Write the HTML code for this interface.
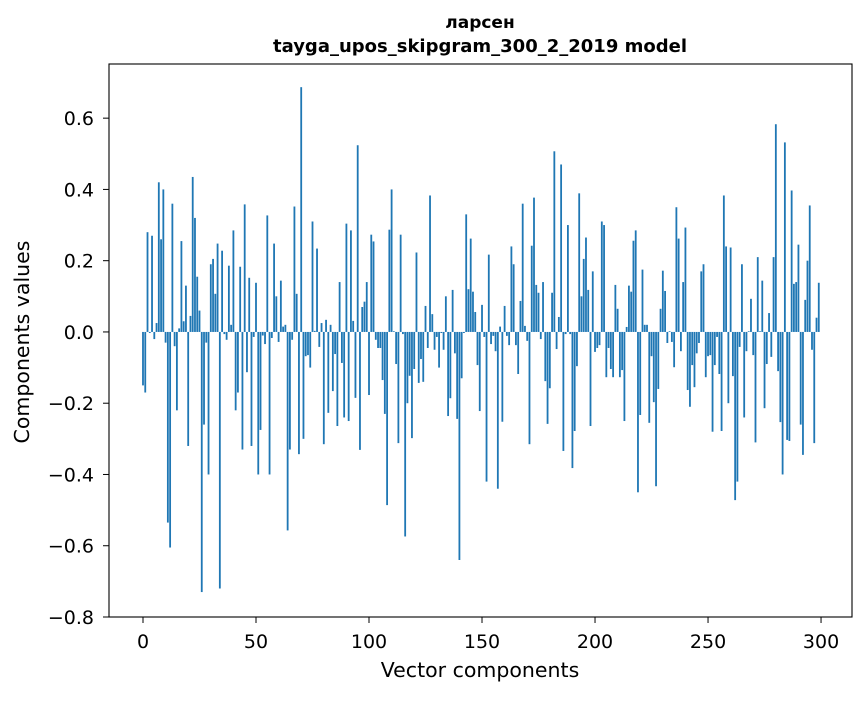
<!DOCTYPE html>
<html><head><meta charset="utf-8"><style>
body{margin:0;background:#fff;}
svg text{font-family:"DejaVu Sans","Liberation Sans",sans-serif;fill:#000;}
</style></head><body>
<svg id="chart" width="867" height="696" xmlns="http://www.w3.org/2000/svg">
<rect width="867" height="696" fill="#fff"/>
<text x="480" y="28" text-anchor="middle" font-size="17" font-weight="bold">ларсен</text>
<text x="480" y="52" text-anchor="middle" font-size="18" font-weight="bold">tayga_upos_skipgram_300_2_2019 model</text>
<g id="bars"></g>
<g id="axes"></g>
<text x="480" y="677" text-anchor="middle" font-size="20.5">Vector components</text>
<text transform="translate(29,342) rotate(-90)" text-anchor="middle" font-size="20.5">Components values</text>
</svg>
<script>
const values = [
-0.15,-0.17,0.28,-0.003,0.27,-0.02,0.025,0.42,0.26,0.40,
-0.03,-0.535,-0.605,0.36,-0.04,-0.22,0.01,0.255,0.03,0.13,
-0.32,0.045,0.435,0.32,0.155,0.06,-0.73,-0.26,-0.03,-0.40,
0.19,0.205,0.107,0.248,-0.72,0.228,-0.006,-0.022,0.186,0.02,
0.285,-0.22,-0.17,0.183,-0.33,0.358,-0.113,0.152,-0.32,-0.014,
0.138,-0.40,-0.275,-0.01,-0.034,0.327,-0.40,-0.017,0.248,0.10,
-0.028,0.144,0.015,0.02,-0.557,-0.33,-0.022,0.352,0.107,-0.343,
0.687,-0.30,-0.068,-0.065,-0.10,0.31,0.003,0.234,-0.042,0.025,
-0.315,0.034,-0.227,0.02,-0.166,-0.062,-0.264,0.14,-0.087,-0.24,
0.304,-0.25,0.285,0.031,-0.185,0.524,-0.331,0.07,0.085,0.14,
-0.177,0.273,0.254,-0.022,-0.045,-0.045,-0.135,-0.23,-0.486,0.287,
0.40,0.002,-0.09,-0.312,0.273,-0.006,-0.574,-0.20,-0.123,-0.298,
-0.104,0.223,-0.143,-0.076,-0.14,0.073,-0.045,0.383,0.05,-0.05,
-0.014,-0.10,-0.003,-0.05,0.10,-0.236,-0.186,0.118,-0.06,-0.244,
-0.64,-0.13,-0.003,0.33,0.12,0.262,0.113,0.056,-0.093,-0.222,
0.076,-0.014,-0.42,0.217,-0.034,-0.011,-0.054,-0.44,0.015,-0.252,
0.073,-0.011,-0.037,0.24,0.19,-0.037,-0.118,0.087,0.36,0.017,
-0.025,-0.315,0.242,0.377,0.132,0.11,-0.02,0.14,-0.138,-0.258,
-0.158,0.11,0.507,-0.048,0.042,0.47,-0.334,-0.006,0.30,-0.006,
-0.382,-0.278,-0.096,0.389,0.10,0.205,0.265,0.118,-0.264,0.17,
-0.056,-0.045,-0.037,0.31,0.30,-0.127,-0.045,-0.104,-0.127,0.132,
0.065,-0.127,-0.107,-0.25,0.014,0.13,0.113,0.256,0.285,-0.45,
-0.233,0.175,0.02,0.02,-0.255,-0.068,-0.197,-0.433,-0.16,0.065,
0.172,0.115,-0.031,0.002,-0.028,-0.099,0.35,0.262,-0.054,0.14,
0.293,-0.163,-0.21,-0.093,-0.155,-0.06,-0.031,0.17,0.19,-0.127,
-0.068,-0.065,-0.28,-0.093,-0.014,-0.118,-0.278,0.383,0.24,-0.20,
0.237,-0.124,-0.472,-0.42,-0.042,0.19,-0.24,-0.054,0.002,0.093,
-0.065,-0.31,0.21,0.002,0.144,-0.214,-0.09,0.053,-0.07,0.21,
0.583,-0.11,-0.253,-0.40,0.532,-0.303,-0.306,0.397,0.135,0.14,
0.245,-0.26,-0.345,0.09,0.20,0.355,-0.05,-0.312,0.04,0.138
];
const xTicks = [0,50,100,150,200,250,300];
const yTicks = [-0.8,-0.6,-0.4,-0.2,0.0,0.2,0.4,0.6];
const yTickLabels = ["\u22120.8","\u22120.6","\u22120.4","\u22120.2","0.0","0.2","0.4","0.6"];

const L=109,R=852,T=64,B=617;
const xMin=-15.04,xMax=313.7,yMin=-0.80,yMax=0.752;
const xs=v=>L+(v-xMin)/(xMax-xMin)*(R-L);
const ys=v=>B-(v-yMin)/(yMax-yMin)*(B-T);
const NS="http://www.w3.org/2000/svg";
const bars=document.getElementById('bars');
const bw=(xs(0.8)-xs(0));
values.forEach((v,i)=>{
  const r=document.createElementNS(NS,'rect');
  
  
  const y0=ys(0),y1=ys(v);
  r.setAttribute('x',xs(i)-bw/2);
  r.setAttribute('width',bw);
  r.setAttribute('y',Math.min(y0,y1));
  r.setAttribute('height',Math.abs(y1-y0));
  r.setAttribute('fill','#1f77b4');
  bars.appendChild(r);
});
const ax=document.getElementById('axes');
const frame=document.createElementNS(NS,'rect');


frame.setAttribute('x',L);frame.setAttribute('y',T);
frame.setAttribute('width',R-L);frame.setAttribute('height',B-T);
frame.setAttribute('fill','none');frame.setAttribute('stroke','#000');frame.setAttribute('stroke-width','1.1');
ax.appendChild(frame);
xTicks.forEach(t=>{
  const x=xs(t);
  const l=document.createElementNS(NS,'line');
  
  
  l.setAttribute('x1',x);l.setAttribute('x2',x);l.setAttribute('y1',B);l.setAttribute('y2',B+6);
  l.setAttribute('stroke','#000');
  ax.appendChild(l);
  const tx=document.createElementNS(NS,'text');
  
  
  tx.setAttribute('x',x);tx.setAttribute('y',B+31);
  tx.setAttribute('text-anchor','middle');tx.setAttribute('font-size','19');
  tx.textContent=String(t);
  ax.appendChild(tx);
});
yTicks.forEach((t,i)=>{
  const y=ys(t);
  const l=document.createElementNS(NS,'line');
  
  
  l.setAttribute('x1',L-6);l.setAttribute('x2',L);l.setAttribute('y1',y);l.setAttribute('y2',y);
  l.setAttribute('stroke','#000');
  ax.appendChild(l);
  const tx=document.createElementNS(NS,'text');
  
  
  tx.setAttribute('x',L-15);tx.setAttribute('y',y+7);
  tx.setAttribute('text-anchor','end');tx.setAttribute('font-size','19');
  tx.textContent=yTickLabels[i];
  ax.appendChild(tx);
});
</script>
</body></html>
